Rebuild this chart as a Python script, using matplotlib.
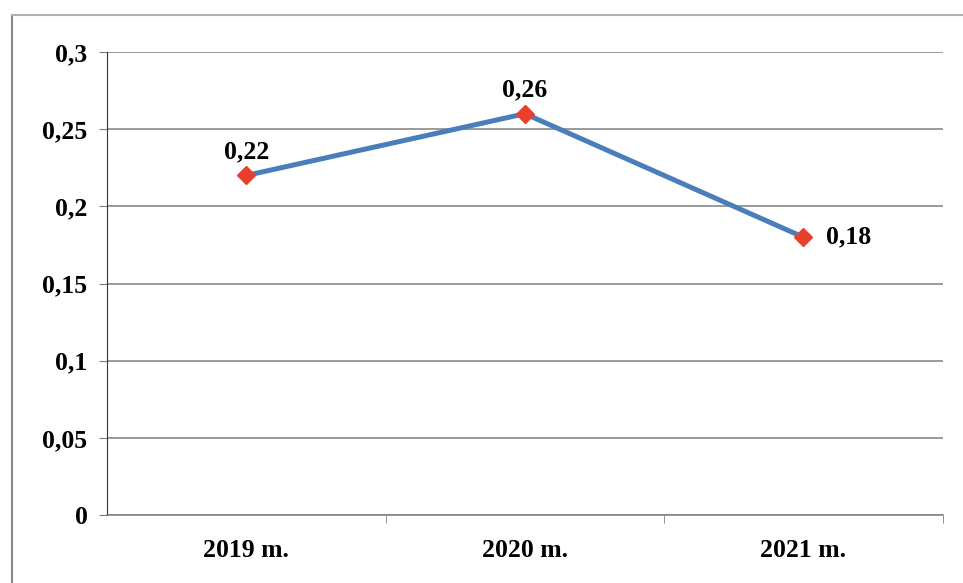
import matplotlib.pyplot as plt
from matplotlib.lines import Line2D
from matplotlib.ticker import FuncFormatter, MultipleLocator

years = ['2019 m.', '2020 m.', '2021 m.']
values = [0.22, 0.26, 0.18]
labels = ['0,22', '0,26', '0,18']

plt.rcParams['font.family'] = ['Liberation Serif', 'DejaVu Serif']
plt.rcParams['font.weight'] = 'bold'

fig = plt.figure(figsize=(9.63, 5.83), dpi=100)
ax = fig.add_axes([0.111, 0.1166, 0.868, 0.7942])

x = list(range(len(years)))
ax.plot(x, values, color='#4a7ebb', lw=3.6, zorder=3,
        marker='D', markersize=9, markerfacecolor='#e8402c', markeredgecolor='#e8402c')

# data labels
ax.annotate(labels[0], (x[0], values[0]), xytext=(0, 9), textcoords='offset points',
            ha='center', va='bottom', fontsize=18.5, fontweight='bold')
ax.annotate(labels[1], (x[1], values[1]), xytext=(0, 9), textcoords='offset points',
            ha='center', va='bottom', fontsize=18.5, fontweight='bold')
ax.annotate(labels[2], (x[2], values[2]), xytext=(16, 0), textcoords='offset points',
            ha='left', va='center', fontsize=18.5, fontweight='bold')

ax.set_xlim(-0.5, len(years) - 0.5)
ax.set_ylim(0, 0.3)
ax.yaxis.set_major_locator(MultipleLocator(0.05))
ax.yaxis.set_major_formatter(FuncFormatter(lambda v, p: ('%g' % round(v, 2)).replace('.', ',')))
ax.grid(axis='y', color='#7f7f7f', lw=1.1)
ax.set_axisbelow(True)

ax.set_xticks(x)
ax.set_xticklabels(years, fontsize=18.5, fontweight='bold')
ax.set_xticks([0.5, 1.5, 2.5], minor=True)
ax.tick_params(axis='x', which='major', length=0, pad=17)
ax.tick_params(axis='x', which='minor', length=6, color='#7f7f7f', direction='out')
ax.tick_params(axis='y', length=6, color='#7f7f7f', labelsize=18.5, pad=8)
for t in ax.get_yticklabels():
    t.set_fontweight('bold')

for s in ['top', 'right']:
    ax.spines[s].set_visible(False)
ax.spines['left'].set_color('#333333')
ax.spines['bottom'].set_color('#7f7f7f')
ax.spines['bottom'].set_linewidth(1.1)

# outer chart border (scanned frame)
fig.add_artist(Line2D([12 / 963, 12 / 963], [0, 1 - 15 / 583], color='#8a8a8a', lw=1.5))
fig.add_artist(Line2D([12 / 963, 1], [1 - 15 / 583, 1 - 15 / 583], color='#b0b0b0', lw=1.5))

fig.savefig('out.png', dpi=100)
